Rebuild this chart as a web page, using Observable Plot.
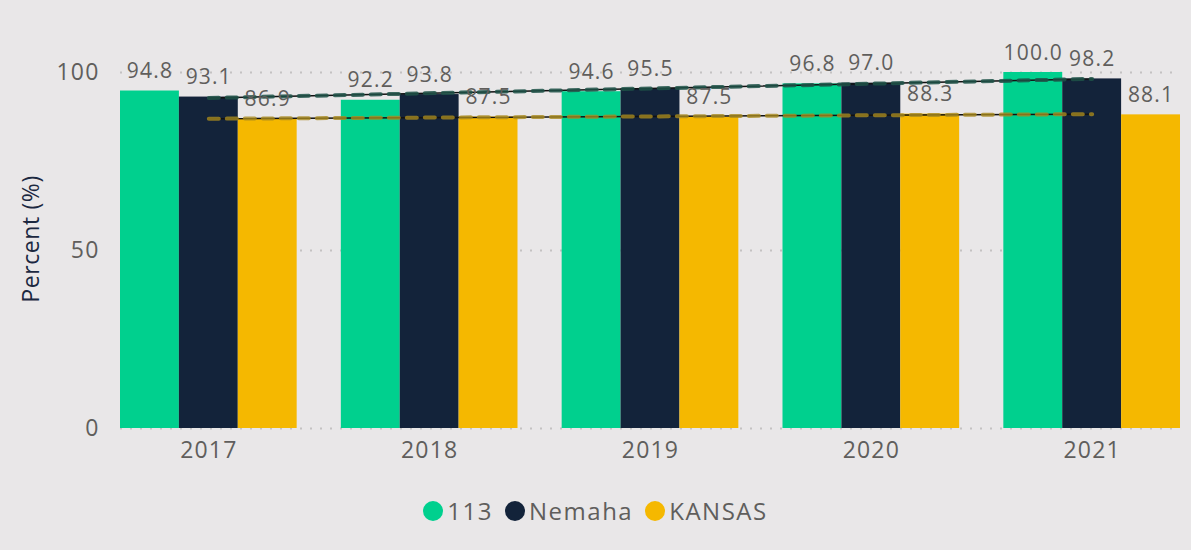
<!DOCTYPE html>
<html><head><meta charset="utf-8">
<script src="https://cdn.jsdelivr.net/npm/d3@7"></script>
<script src="https://cdn.jsdelivr.net/npm/@observablehq/plot@0.6"></script>
<style>
html,body{margin:0;padding:0;background:#E9E7E8;width:1191px;height:550px;overflow:hidden;font-family:"Open Sans",sans-serif}
#wrap{position:relative;width:1191px;height:550px}
#chart{position:absolute;left:0;top:0}
#ytitle{position:absolute;left:30px;top:239px;transform:translate(-50%,-50%) rotate(-90deg);font-size:23px;color:#1B2840;white-space:nowrap;letter-spacing:0.6px}
#legend{position:absolute;left:0;top:494px;width:1191px;display:flex;justify-content:center;align-items:center;font-size:24px;color:#605E5C;letter-spacing:1.5px}
.item{display:flex;align-items:center;margin:0 6px}
.dot{width:20px;height:20px;border-radius:50%;margin-right:4px}
</style></head><body>
<div id="wrap"><div id="chart"></div><div id="ytitle">Percent (%)</div><div id="legend"></div></div>
<script>
const years = [2017, 2018, 2019, 2020, 2021];
const seriesNames = ["113", "Nemaha", "KANSAS"];
const seriesColors = ["#00D08E", "#13233A", "#F5B800"];
const values113 = [94.8, 92.2, 94.6, 96.8, 100.0];
const valuesNemaha = [93.1, 93.8, 95.5, 97.0, 98.2];
const valuesKansas = [86.9, 87.5, 87.5, 88.3, 88.1];
const yTicks = [0, 50, 100];

const allValues = [values113, valuesNemaha, valuesKansas];
const rows = [];
allValues.forEach((vals, i) => vals.forEach((v, j) => rows.push({year: years[j], series: seriesNames[i], i, value: v})));
const groupW = 0.8, barW = groupW / 3;
const bx1 = d => d.year - groupW / 2 + d.i * barW;
const bx2 = d => d.year - groupW / 2 + (d.i + 1) * barW;
const bxc = d => d.year - groupW / 2 + (d.i + 0.5) * barW;
const nem = rows.filter(d => d.series === "Nemaha");
const kan = rows.filter(d => d.series === "KANSAS");

const chart = Plot.plot({
  width: 1191, height: 470,
  marginLeft: 120, marginRight: 11, marginTop: 72, marginBottom: 42,
  style: {background: "transparent", fontFamily: "Open Sans, sans-serif", fontSize: "23px", color: "#605E5C", letterSpacing: "1.2px"},
  x: {domain: [years[0] - 0.4, years[years.length - 1] + 0.4], ticks: years, tickFormat: d => String(d), tickSize: 0, tickPadding: 13, label: null},
  y: {domain: [0, 100], ticks: yTicks, tickSize: 0, tickPadding: 21, label: null},
  color: {domain: seriesNames, range: seriesColors},
  marks: [
    Plot.ruleY(yTicks, {stroke: "#C4C2C2", strokeWidth: 2, strokeDasharray: "2,8"}),
    Plot.rect(rows, {x1: bx1, x2: bx2, y1: 0, y2: "value", fill: "series"}),
    Plot.linearRegressionY(nem, {x: "year", y: "value", ci: 0, stroke: "#111", strokeWidth: 1.5}),
    Plot.linearRegressionY(kan, {x: "year", y: "value", ci: 0, stroke: "#111", strokeWidth: 1.5}),
    Plot.linearRegressionY(nem, {x: "year", y: "value", ci: 0, stroke: "#1E5248", strokeWidth: 4, strokeOpacity: 0.85, strokeDasharray: "10,8"}),
    Plot.linearRegressionY(kan, {x: "year", y: "value", ci: 0, stroke: "#A8891E", strokeWidth: 4, strokeOpacity: 0.8, strokeDasharray: "10,8"}),
    Plot.text(rows, {x: bxc, y: "value", text: d => d.value.toFixed(1), dy: -13, lineAnchor: "bottom", fill: "#605E5C", fontSize: 21})
  ]
});
document.getElementById("chart").appendChild(chart);

const legend = document.getElementById("legend");
seriesNames.forEach((s, i) => {
  const it = document.createElement("div"); it.className = "item";
  const dot = document.createElement("div"); dot.className = "dot"; dot.style.background = seriesColors[i];
  const t = document.createElement("span"); t.textContent = s;
  it.appendChild(dot); it.appendChild(t); legend.appendChild(it);
});
</script></body></html>
